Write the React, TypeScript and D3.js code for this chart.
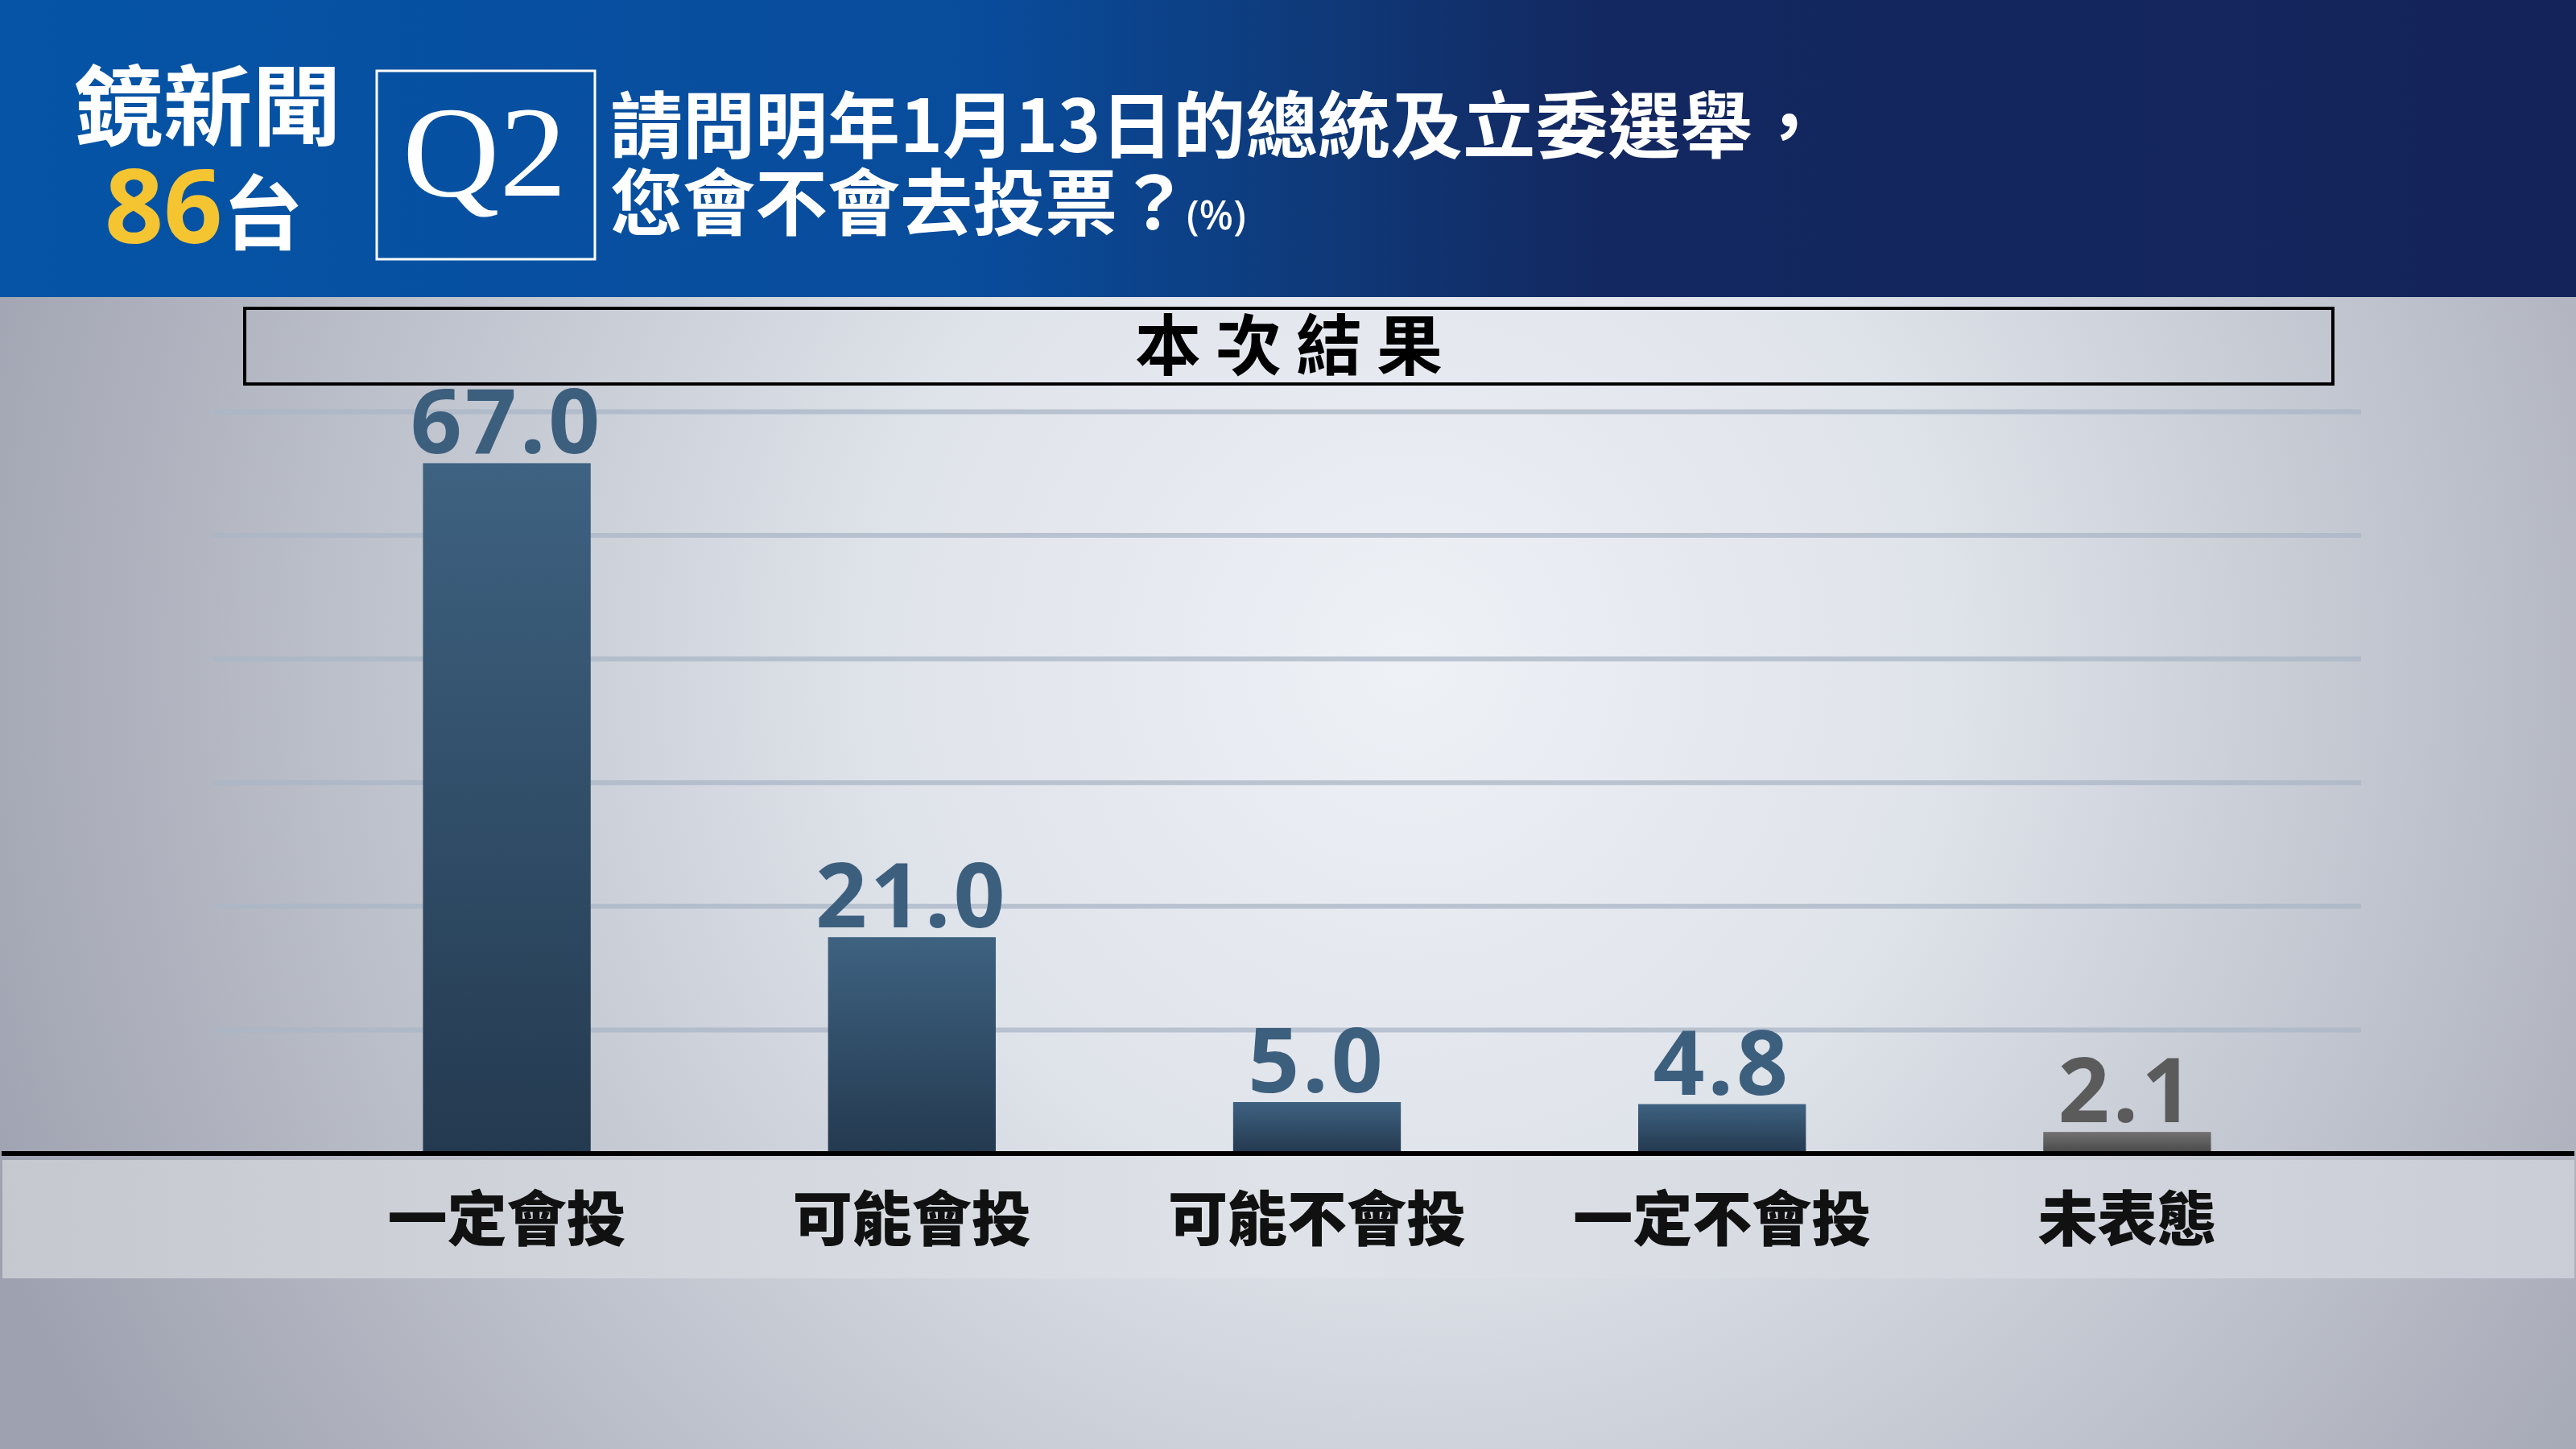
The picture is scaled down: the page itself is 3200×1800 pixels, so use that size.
import React from 'react';
import * as d3 from 'd3';

const categories = ['一定會投', '可能會投', '可能不會投', '一定不會投', '未表態'];
const values = [67.0, 21.0, 5.0, 4.8, 2.1];
const gridTicks = [12, 24, 36, 48, 60, 72];
const neutralCategory = '未表態';

const titleLine1 = '請問明年1月13日的總統及立委選舉，';
const titleLine2 = '您會不會去投票？';
const unitLabel = '(%)';
const panelTitle = '本次結果';

const W = 3200;
const H = 1800;

const CJK = '"Noto Sans CJK TC", "Noto Sans CJK SC", sans-serif';

export default function App() {
  const data = categories.map((c, i) => ({ category: c, value: values[i] }));

  const baseY = 1433;
  const x = d3.scaleBand()
    .domain(categories)
    .range([378, 2894])
    .paddingInner(0.586)
    .paddingOuter(0.293);

  const y = d3.scaleLinear()
    .domain([0, 72])
    .range([baseY, baseY - 72 * 12.8]);

  return (
    <svg width={W} height={H} viewBox={`0 0 ${W} ${H}`}
      style={{ position: 'absolute', left: 0, top: 0, display: 'block' }}>
      <defs>
        <linearGradient id="hdr" x1="0" x2="1" y1="0" y2="0">
          <stop offset="0" stopColor="#0554a6" />
          <stop offset="0.38" stopColor="#094c9c" />
          <stop offset="0.52" stopColor="#0f3877" />
          <stop offset="0.62" stopColor="#132861" />
          <stop offset="1" stopColor="#14245a" />
        </linearGradient>
        <radialGradient id="bg" cx="1750" cy="820" r="1900" gradientUnits="userSpaceOnUse">
          <stop offset="0" stopColor="#eef1f6" />
          <stop offset="0.35" stopColor="#dfe3ea" />
          <stop offset="0.7" stopColor="#bcc0ca" />
          <stop offset="1" stopColor="#9ea1af" />
        </radialGradient>
        <linearGradient id="band" x1="0" x2="1" y1="0" y2="0">
          <stop offset="0" stopColor="#c5c8cf" />
          <stop offset="0.5" stopColor="#dfe3e9" />
          <stop offset="1" stopColor="#cacdd6" />
        </linearGradient>
        <linearGradient id="barMain" x1="0" x2="0" y1="0" y2="1">
          <stop offset="0" stopColor="#3e6281" />
          <stop offset="1" stopColor="#243a50" />
        </linearGradient>
        <linearGradient id="barGray" x1="0" x2="0" y1="0" y2="1">
          <stop offset="0" stopColor="#727272" />
          <stop offset="1" stopColor="#4c4c4c" />
        </linearGradient>
      </defs>

      {/* background */}
      <rect x={0} y={0} width={W} height={H} fill="url(#bg)" />

      {/* header */}
      <rect x={0} y={0} width={W} height={369} fill="url(#hdr)" />
      <text x={92} y={172} fill="#ffffff" fontFamily={CJK} fontWeight={700} fontSize={108}
        textLength={332} lengthAdjust="spacingAndGlyphs">鏡新聞</text>
      <text y={302} fontFamily={CJK} fontWeight={700}>
        <tspan x={130} fill="#f5c431" fontFamily='"Noto Sans", sans-serif' fontSize={128}>86</tspan>
        <tspan fill="#ffffff" fontSize={100}>台</tspan>
      </text>
      <rect x={468} y={88} width={271} height={234} fill="none" stroke="#ffffff" strokeWidth={3} />
      <text x={500} y={243} fill="#ffffff" fontFamily='"Liberation Serif", serif' fontSize={160}
        textLength={204} lengthAdjust="spacingAndGlyphs">Q2</text>
      <text x={758} y={189} fill="#ffffff" fontFamily={CJK} fontWeight={700} fontSize={90}>{titleLine1}</text>
      <text x={758} y={285} fill="#ffffff" fontFamily={CJK} fontWeight={700} fontSize={90}>
        {titleLine2}
        <tspan fontFamily='"Noto Sans", sans-serif' fontWeight={500} fontSize={50} dx={-4}>{unitLabel}</tspan>
      </text>

      {/* panel title box */}
      <rect x={304} y={383} width={2594} height={94} fill="none" stroke="#000000" strokeWidth={4} />
      <text x={1610} y={459} textAnchor="middle" fill="#000000" fontFamily={CJK} fontWeight={700}
        fontSize={82} letterSpacing={18}>{panelTitle}</text>

      {/* gridlines */}
      {gridTicks.map(t => (
        <line key={t} x1={265} x2={2933} y1={y(t)} y2={y(t)} stroke="#aab6c5" strokeOpacity={0.75} strokeWidth={6} />
      ))}

      {/* label band */}
      <rect x={3} y={1441} width={3195} height={147} fill="url(#band)" />

      {/* bars */}
      {data.map(d => {
        const neutral = d.category === neutralCategory;
        const cx = (x(d.category) as number) + x.bandwidth() / 2;
        return (
          <g key={d.category}>
            <rect x={x(d.category)} y={y(d.value)} width={x.bandwidth()} height={y(0) - 3 - y(d.value)}
              fill={neutral ? 'url(#barGray)' : 'url(#barMain)'} />
            <text x={cx} y={y(d.value) - 12} textAnchor="middle"
              fill={neutral ? '#5b5b5b' : '#3d5f7e'} fontFamily='"Noto Sans", sans-serif' fontWeight={700}
              fontSize={112} letterSpacing={4}>{d.value.toFixed(1)}</text>
            <text x={cx} y={1541} textAnchor="middle"
              fill="#111111" fontFamily={CJK} fontWeight={900} fontSize={74}>{d.category}</text>
          </g>
        );
      })}

      {/* baseline */}
      <line x1={2} x2={3198} y1={baseY} y2={baseY} stroke="#000000" strokeWidth={6} />
    </svg>
  );
}
